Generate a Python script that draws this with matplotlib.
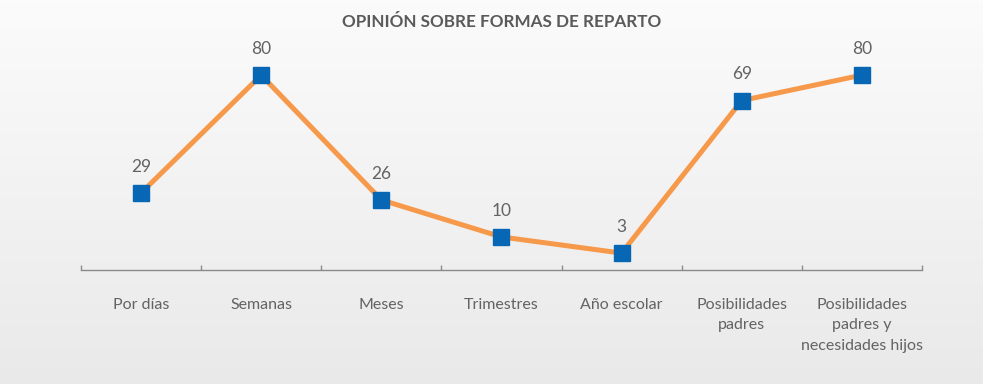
import numpy as np
import matplotlib
matplotlib.use("Agg")
import matplotlib.pyplot as plt
from matplotlib.ticker import FixedLocator

categories = ["Por días", "Semanas", "Meses", "Trimestres", "Año escolar",
              "Posibilidades\npadres", "Posibilidades\npadres y\nnecesidades hijos"]
values = [29, 80, 26, 10, 3, 69, 80]
title = "OPINIÓN SOBRE FORMAS DE REPARTO"

line_color = "#f7994a"
marker_color = "#0767b4"
text_color = "#636363"

fig = plt.figure(figsize=(9.83, 3.84), dpi=100)

# soft vertical gradient behind everything
bg = fig.add_axes([0, 0, 1, 1], zorder=-10)
grad = np.linspace(0.985, 0.915, 256).reshape(-1, 1)
bg.imshow(np.dstack([grad, grad, grad]), aspect="auto", extent=[0, 1, 0, 1])
bg.axis("off")

ax = fig.add_axes([0.0824, 0.2969, 0.8555, 0.5677])
ax.patch.set_alpha(0)

x = np.arange(len(categories))
ax.plot(x, values, color=line_color, lw=3.6, zorder=2, solid_capstyle="butt")
ax.plot(x, values, ls="none", marker="s", ms=11.5, color=marker_color, zorder=3)

for xi, v in zip(x, values):
    ax.annotate(str(v), (xi, v), xytext=(0, 13), textcoords="offset points",
                ha="center", va="bottom", fontsize=12.5, color=text_color,
                family="Lato")

ax.set_xlim(-0.5, len(categories) - 0.5)
ax.set_ylim(-4.3, 90)

for s in ["top", "right", "left"]:
    ax.spines[s].set_visible(False)
ax.spines["bottom"].set_color("#8a8a8a")
ax.spines["bottom"].set_linewidth(1.0)
ax.set_yticks([])

ax.set_xticks(x)
ax.set_xticklabels(categories, fontsize=11.5, color=text_color, family="Lato",
                   linespacing=1.6, va="top")
ax.tick_params(axis="x", which="major", length=0, pad=20)
ax.xaxis.set_minor_locator(FixedLocator(np.arange(-0.5, len(categories), 1)))
ax.tick_params(axis="x", which="minor", direction="in", length=3.5,
               color="#8a8a8a", width=1.0)

fig.text(0.51, 0.942, title, ha="center", va="center", fontsize=12.3,
         fontweight="bold", color="#5a5a5a", family="Lato")

fig.savefig("out.png", dpi=100)
